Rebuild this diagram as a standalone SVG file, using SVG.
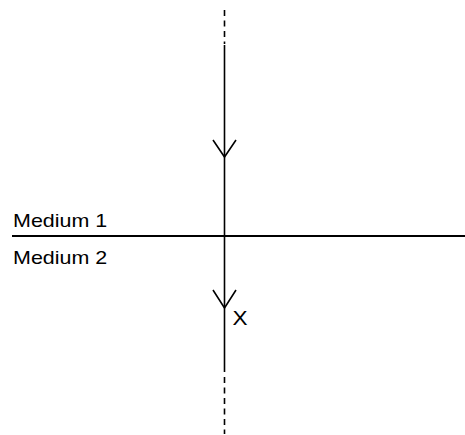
<svg xmlns="http://www.w3.org/2000/svg" width="465" height="435" viewBox="0 0 465 435">
<style>
.ln{stroke:#000;stroke-width:1.6;fill:none}
.dash{stroke:#000;stroke-width:1.6;fill:none;stroke-dasharray:6 4.5}
.lbl{font-family:"Liberation Sans",Arial,sans-serif;font-size:19px;fill:#000}
</style>
<rect width="465" height="435" fill="#fff"/>
<g id="connectors">
<line class="dash" x1="224.5" y1="10" x2="224.5" y2="44"/>
<line class="ln" x1="224.5" y1="45" x2="224.5" y2="372"/>
<line class="dash" x1="224.5" y1="377" x2="224.5" y2="434"/>
<polyline class="ln" points="213,140 224.5,157 236,140"/>
<polyline class="ln" points="213,290 224.5,308 236,290"/>
</g>
<g id="interface">
<line x1="12" y1="236" x2="465" y2="236" stroke="#000" stroke-width="2"/>
</g>
<g id="labels">
<text class="lbl" transform="translate(13,226.5) scale(1.13,1)">Medium 1</text>
<text class="lbl" transform="translate(13,263.5) scale(1.13,1)">Medium 2</text>
<text class="lbl" transform="translate(232.5,325) scale(1.13,1)" style="font-size:20px">X</text>
</g>
</svg>
